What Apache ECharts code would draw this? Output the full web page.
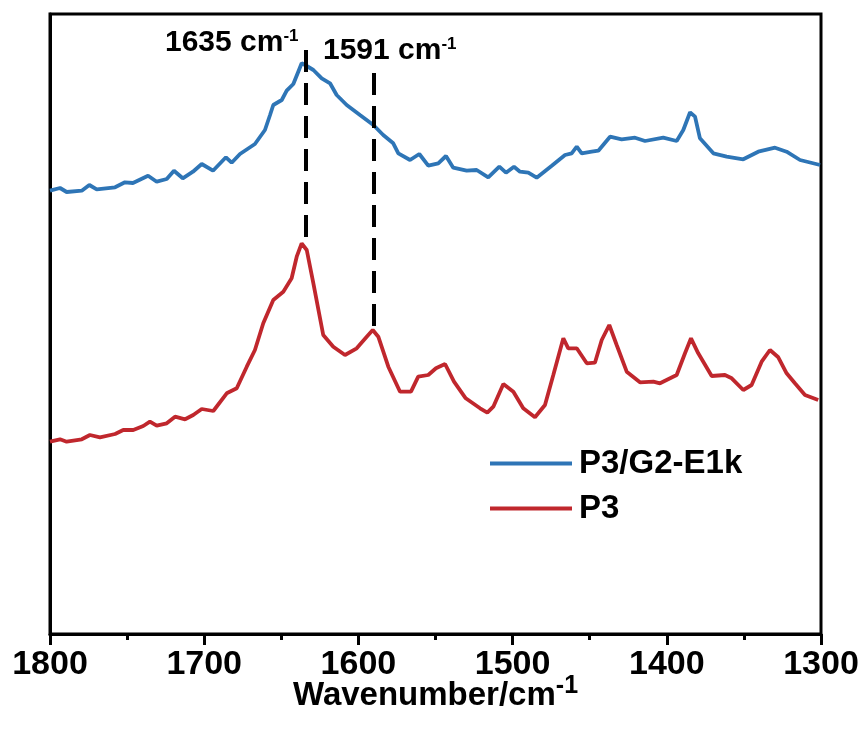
<!DOCTYPE html>
<html><head><meta charset="utf-8">
<script src="https://cdn.jsdelivr.net/npm/echarts@6/dist/echarts.min.js"></script>
<style>html,body{margin:0;padding:0;background:#fff}#c{width:864px;height:733px}</style>
</head><body><div id="c"></div><script>
// ---- data (intensity in arbitrary units) ----
const seriesNames = ['P3/G2-E1k', 'P3'];
const blueWn = [1800.0,1793.5,1789.2,1779.4,1774.5,1769.7,1757.8,1751.4,1746.2,1736.4,1730.8,1724.3,1719.6,1713.9,1707.3,1701.6,1694.3,1685.9,1682.2,1676.8,1667.1,1660.6,1657.3,1655.2,1649.7,1646.5,1642.2,1639.0,1636.8,1634.6,1629.2,1623.8,1618.4,1614.1,1607.6,1599.0,1590.3,1583.9,1577.4,1574.1,1566.5,1560.5,1554.7,1548.2,1543.2,1538.5,1529.8,1523.3,1515.8,1508.6,1504.3,1499.1,1495.2,1489.8,1484.4,1474.6,1466.0,1461.7,1458.4,1455.2,1448.7,1444.4,1436.8,1429.3,1420.6,1414.1,1402.3,1393.6,1389.3,1384.9,1381.7,1378.5,1369.8,1361.2,1350.4,1340.7,1329.8,1322.3,1313.6,1300.6];
const blueI = [443.3,446,442,443.3,449,444.7,446.7,451.7,451,458.3,452.3,455,463.3,455.7,462.3,470,463.3,476.7,471.3,480,490,504,519,529,534,543.3,550,562.3,570.7,569,564,555.7,550.7,539,529,519,509,499,490.7,480.7,474,480,468.3,470.7,478,466.3,463.3,464,456.7,467.3,461.3,467.3,462.3,461.3,456.3,468.3,479,480.7,487.3,480.7,482.3,483.3,497.3,494.7,496.3,493,496.3,493,504,521.7,517.3,495.7,480.7,477.3,474.7,482.3,486.3,482.3,474,469];
const redWn = [1800.0,1793.5,1789.2,1779.4,1774.1,1767.6,1757.8,1752.5,1746.0,1739.5,1735.2,1730.8,1724.3,1718.9,1712.4,1707.1,1701.6,1694.1,1685.4,1678.9,1672.4,1667.1,1661.7,1655.2,1648.7,1643.3,1640.0,1636.8,1633.5,1629.2,1622.8,1616.3,1608.7,1601.1,1594.6,1590.7,1587.1,1580.6,1573.0,1565.9,1561.2,1554.7,1549.7,1543.8,1538.0,1530.4,1521.1,1516.4,1512.5,1506.0,1499.5,1493.1,1485.5,1479.0,1473.6,1467.1,1463.9,1458.4,1451.9,1446.6,1442.2,1437.3,1432.5,1426.0,1417.4,1408.7,1404.4,1393.6,1388.2,1384.3,1379.6,1370.9,1362.3,1357.9,1350.4,1345.0,1338.5,1333.1,1327.7,1322.3,1316.9,1310.4,1301.8];
const redI = [192.3,194.7,192.3,194.7,199,196.7,200,204,204,208,212.3,208.3,210.7,217.3,214.7,219,225,223,240.7,245.7,267.3,284,310.7,334,342.3,355.7,377.3,390.7,384,350.7,299,287.3,279,285.7,297.3,304,297.3,267.3,242.3,242.3,257.3,259,265.7,270,252.3,235.7,225.7,221.3,227.3,250,242.3,225.7,216.7,229,259,295.7,285.7,285.7,270.7,271.3,294,309,289,262.3,251.7,252.3,250.7,259,280.7,295.7,280.7,258,259,255.7,244,249,272.3,284,276.7,260.7,250.7,239,234];
const xTickLabels = [1800, 1700, 1600, 1500, 1400, 1300];
const peakLabels = ['1635', '1591'];
const peakLineWn = [1634, 1590];
const peakLineTop = [584, 561];
const peakLineBottom = [394, 306];

const FONT = "'Liberation Sans', Arial, sans-serif";
const pair = (xs, ys) => xs.map((x, i) => [x, ys[i]]);

const chart = echarts.init(document.getElementById('c'), null, {renderer: 'canvas'});
const markData = peakLineWn.map((w, i) => [{coord: [w, peakLineTop[i]]}, {coord: [w, peakLineBottom[i]]}]);

chart.setOption({
  animation: false,
  backgroundColor: '#fff',
  grid: {left: 50, right: 43, top: 14, bottom: 99, show: true, borderColor: '#000', borderWidth: 3, backgroundColor: 'transparent'},
  xAxis: {
    type: 'value', min: 1300, max: 1800, interval: 100, inverse: true,
    axisLine: {lineStyle: {color: '#000', width: 3}},
    axisTick: {show: true, length: 11, inside: false, lineStyle: {color: '#000', width: 3}},
    minorTick: {show: true, splitNumber: 2, length: 6, lineStyle: {color: '#000', width: 3}},
    splitLine: {show: false},
    axisLabel: {color: '#000', fontSize: 34, fontWeight: 'bold', fontFamily: FONT, margin: 14,
      formatter: v => xTickLabels.includes(v) ? String(v) : ''},
    name: '{a|Wavenumber/cm}{b|-1}', nameLocation: 'middle', nameGap: 40, nameMoveOverlap: false,
    nameTextStyle: {rich: {
      a: {fontSize: 33, fontWeight: 'bold', fontFamily: FONT, color: '#000', lineHeight: 38, verticalAlign: 'bottom'},
      b: {fontSize: 25, fontWeight: 'bold', fontFamily: FONT, color: '#000', lineHeight: 22, verticalAlign: 'top'}
    }}
  },
  yAxis: {
    type: 'value', min: 0, max: 620,
    axisLine: {show: true, lineStyle: {color: '#000', width: 3}},
    axisTick: {show: false}, axisLabel: {show: false}, splitLine: {show: false}
  },
  legend: {
    orient: 'vertical', left: 490, top: 447, icon: 'rect', itemWidth: 82, itemHeight: 4, itemGap: 12,
    padding: 0,
    textStyle: {fontSize: 33, fontWeight: 'bold', fontFamily: FONT, color: '#000', padding: [0, 0, 0, 2]},
    data: seriesNames
  },
  series: [
    {name: seriesNames[0], type: 'line', data: pair(blueWn, blueI), showSymbol: false, symbol: 'none',
      lineStyle: {color: '#2E75B6', width: 3.8}, itemStyle: {color: '#2E75B6'}},
    {name: seriesNames[1], type: 'line', data: pair(redWn, redI), showSymbol: false, symbol: 'none',
      lineStyle: {color: '#C0272D', width: 3.8}, itemStyle: {color: '#C0272D'},
      markLine: {silent: true, symbol: 'none', label: {show: false},
        lineStyle: {color: '#000', width: 4, type: [22, 11]}, data: markData}}
  ],
  graphic: [
    {type: 'text', left: 165, top: 28, silent: true, style: {
      text: '{a|' + peakLabels[0] + ' cm}{b|-1}',
      rich: {a: {fontSize: 30, fontWeight: 'bold', fontFamily: FONT, fill: '#000', lineHeight: 30, verticalAlign: 'bottom'},
             b: {fontSize: 17, fontWeight: 'bold', fontFamily: FONT, fill: '#000', lineHeight: 16, verticalAlign: 'top'}}}},
    {type: 'text', left: 323, top: 36, silent: true, style: {
      text: '{a|' + peakLabels[1] + ' cm}{b|-1}',
      rich: {a: {fontSize: 30, fontWeight: 'bold', fontFamily: FONT, fill: '#000', lineHeight: 30, verticalAlign: 'bottom'},
             b: {fontSize: 17, fontWeight: 'bold', fontFamily: FONT, fill: '#000', lineHeight: 16, verticalAlign: 'top'}}}}
  ]
});
</script></body></html>
